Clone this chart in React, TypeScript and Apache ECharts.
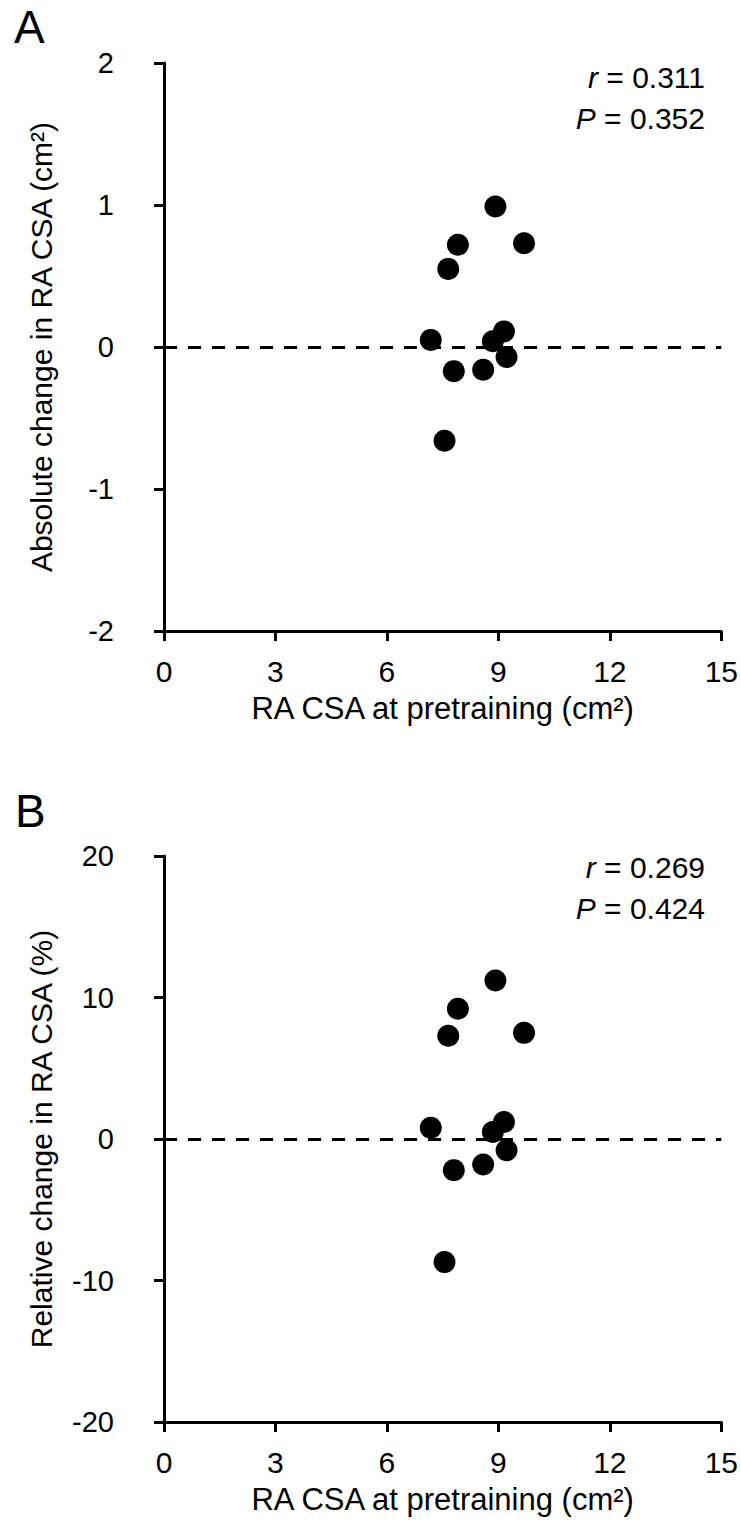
import React, { useEffect, useRef } from "react";
import * as echarts from "echarts";

const pretrainingCSA = [8.92, 7.91, 9.69, 7.65, 7.18, 9.15, 8.85, 9.22, 7.8, 8.59, 7.55];
const absoluteChange = [0.99, 0.72, 0.73, 0.55, 0.05, 0.11, 0.04, -0.07, -0.17, -0.16, -0.66];
const relativeChange = [11.2, 9.2, 7.5, 7.3, 0.8, 1.2, 0.5, -0.8, -2.2, -1.8, -8.7];

const xTicks = [0, 3, 6, 9, 12, 15];
const yTicksA = [-2, -1, 0, 1, 2];
const yTicksB = [-20, -10, 0, 10, 20];

const statsA = { r: "0.311", p: "0.352" };
const statsB = { r: "0.269", p: "0.424" };

const xTitle = "RA CSA at pretraining (cm²)";
const yTitleA = "Absolute change in RA CSA (cm²)";
const yTitleB = "Relative change in RA CSA (%)";

const SANS = "'Liberation Sans', Arial, sans-serif";

export default function App() {
  const ref = useRef<HTMLDivElement>(null);
  useEffect(() => {
    if (!ref.current) return;
    const chart = echarts.init(ref.current, null, { renderer: "svg" });

    const axisLine = { show: true, onZero: false, lineStyle: { color: "#000", width: 3 } };
    const axisTick = { show: true, inside: false, length: 10, lineStyle: { color: "#000", width: 3 } };

    const makeX = (gridIndex: number) => ({
      type: "value",
      gridIndex,
      min: xTicks[0],
      max: xTicks[xTicks.length - 1],
      interval: 3,
      axisLine,
      axisTick,
      splitLine: { show: false },
      axisLabel: { color: "#000", fontSize: 30, fontFamily: SANS, margin: 25 },
      name: xTitle,
      nameLocation: "middle",
      nameGap: 62,
      nameTextStyle: { color: "#000", fontSize: 31, fontFamily: SANS },
    });

    const makeY = (gridIndex: number, ticks: number[], title: string) => ({
      type: "value",
      gridIndex,
      min: ticks[0],
      max: ticks[ticks.length - 1],
      interval: ticks[1] - ticks[0],
      axisLine,
      axisTick,
      splitLine: { show: false },
      axisLabel: { color: "#000", fontSize: 29, fontFamily: SANS, margin: 50 },
      name: title,
      nameLocation: "middle",
      nameRotate: 90,
      nameGap: 108,
      nameTextStyle: { color: "#000", fontSize: 30, fontFamily: SANS },
    });

    const makeSeries = (idx: number, values: number[]) => ({
      type: "scatter",
      xAxisIndex: idx,
      yAxisIndex: idx,
      symbol: "circle",
      symbolSize: 22,
      itemStyle: { color: "#000", opacity: 1 },
      data: pretrainingCSA.map((x, i) => [x, values[i]]),
      markLine: {
        silent: true,
        symbol: ["none", "none"],
        label: { show: false },
        lineStyle: { color: "#000", width: 3, type: [13, 11] },
        data: [[{ coord: [xTicks[0], 0] }, { coord: [xTicks[xTicks.length - 1], 0] }]],
      },
    });

    const statText = (top: number, stats: { r: string; p: string }) => [
      {
        type: "text",
        right: 36,
        top,
        style: {
          text: "{i|r} = " + stats.r,
          fontSize: 30,
          fontFamily: SANS,
          fill: "#000",
          rich: { i: { fontStyle: "italic", fontSize: 30, fontFamily: SANS } },
        },
      },
      {
        type: "text",
        right: 36,
        top: top + 41,
        style: {
          text: "{i|P} = " + stats.p,
          fontSize: 30,
          fontFamily: SANS,
          fill: "#000",
          rich: { i: { fontStyle: "italic", fontSize: 30, fontFamily: SANS } },
        },
      },
    ];

    chart.setOption({
      animation: false,
      backgroundColor: "#fff",
      grid: [
        { left: 164, right: 16, top: 63, height: 568 },
        { left: 164, right: 16, top: 856, height: 566 },
      ],
      xAxis: [makeX(0), makeX(1)],
      yAxis: [makeY(0, yTicksA, yTitleA), makeY(1, yTicksB, yTitleB)],
      series: [makeSeries(0, absoluteChange), makeSeries(1, relativeChange)],
      graphic: [
        { type: "text", left: 14, top: 4, style: { text: "A", fontSize: 46, fontFamily: SANS, fill: "#000" } },
        { type: "text", left: 15, top: 788, style: { text: "B", fontSize: 46, fontFamily: SANS, fill: "#000" } },
        ...statText(62, statsA),
        ...statText(852, statsB),
      ],
    });
    return () => chart.dispose();
  }, []);
  return (
    <div
      ref={ref}
      style={{ position: "absolute", left: 0, top: 0, width: 741, height: 1538, background: "#fff" }}
    />
  );
}
